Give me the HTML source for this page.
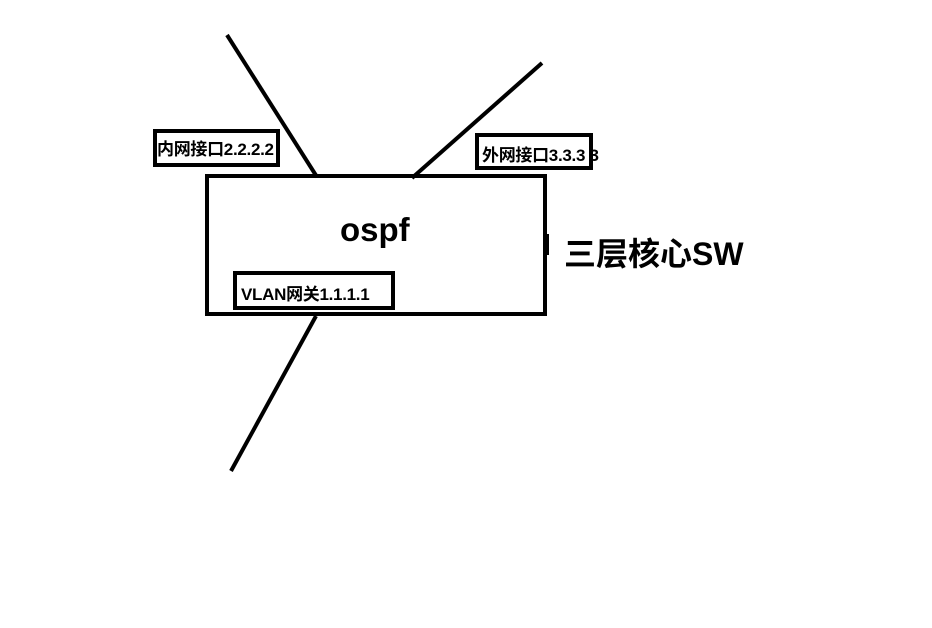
<!DOCTYPE html>
<html><head><meta charset="utf-8"><style>
body{margin:0;width:932px;height:628px;background:#fff;overflow:hidden;position:relative;font-family:"Liberation Sans","Noto Sans CJK SC",sans-serif;font-weight:bold;color:#000}
.b{position:absolute;border:4px solid #000;box-sizing:border-box;background:#fff}
.t{position:absolute;white-space:nowrap}
</style></head><body>
<svg width="932" height="628" style="position:absolute;left:0;top:0">
<g stroke="#000" stroke-width="4" fill="none">
<line x1="227" y1="35" x2="317" y2="177"/>
<line x1="542" y1="63" x2="412" y2="178"/>
<line x1="316" y1="316" x2="231" y2="471"/>
<rect x="207" y="176" width="338" height="138"/>
<line x1="546" y1="234" x2="546" y2="255" stroke-width="6"/>
</g></svg>
<div class="b" style="left:153px;top:129px;width:127px;height:38px"></div>
<div class="t" style="left:157px;top:135px;font-size:17px;letter-spacing:-0.3px">内网接口2.2.2.2</div>
<div class="b" style="left:475px;top:133px;width:118px;height:37px"></div>
<div class="t" style="left:482px;top:141px;font-size:17px;letter-spacing:-0.3px">外网接口3.3.3 3</div>
<div class="b" style="left:233px;top:271px;width:162px;height:39px"></div>
<div class="t" style="left:241px;top:280px;font-size:17px;letter-spacing:-0.3px">VLAN网关1.1.1.1</div>
<div class="t" style="left:340px;top:211px;font-size:33px">ospf</div>
<div class="t" style="left:564px;top:229px;font-size:32px">三层核心SW</div>
</body></html>
